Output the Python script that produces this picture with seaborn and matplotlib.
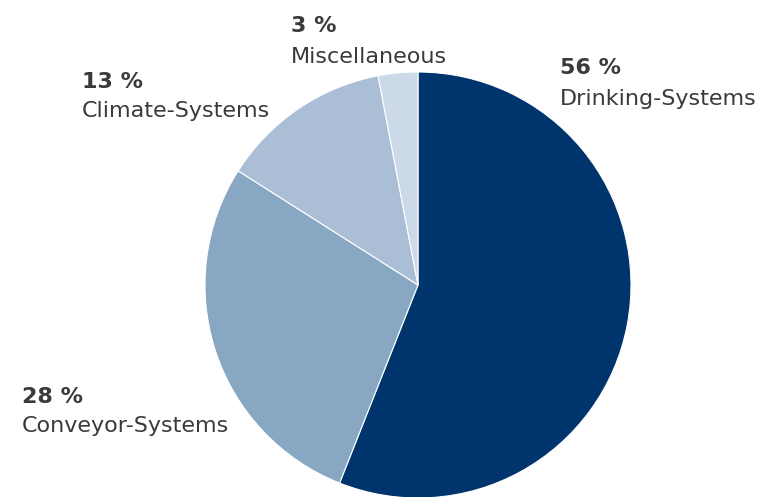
import matplotlib
matplotlib.use("Agg")
import matplotlib.pyplot as plt
import seaborn as sns

# Revenue share by product line
categories = ["Drinking-Systems", "Conveyor-Systems", "Climate-Systems", "Miscellaneous"]
shares = [56, 28, 13, 3]
colors = ["#00346C", "#87A7C2", "#AABFD5", "#CBD9E8"]

sns.set_theme(style="white")
plt.rcParams["font.family"] = ["DejaVu Sans"]

W, H = 764, 497
fig = plt.figure(figsize=(W / 100, H / 100), dpi=100)
fig.patch.set_facecolor("white")

# pie centre and radius in pixels
cx, cy, r = 418, 285, 213
ax = fig.add_axes([(cx - r) / W, (H - cy - r) / H, 2 * r / W, 2 * r / H])
ax.pie(shares, colors=colors, startangle=90, counterclock=False, radius=1,
       wedgeprops=dict(edgecolor="white", linewidth=0.8))
ax.set_xlim(-1, 1)
ax.set_ylim(-1, 1)
ax.set_axis_off()

# label anchors: (left x, baseline of percent line, baseline of name line) in pixels
label_pos = {
    "Drinking-Systems": (560, 74, 105),
    "Conveyor-Systems": (22, 403, 432),
    "Climate-Systems": (82, 88, 117),
    "Miscellaneous": (291, 32, 63),
}
text_color = "#3a3a3a"
for name, val in zip(categories, shares):
    x, y1, y2 = label_pos[name]
    fig.text(x / W, 1 - y1 / H, f"{val} %", fontsize=16, fontweight="bold",
             color=text_color, ha="left", va="baseline")
    fig.text(x / W, 1 - y2 / H, name, fontsize=16, fontweight="normal",
             color=text_color, ha="left", va="baseline")

fig.savefig("out.png", dpi=100, facecolor="white")
